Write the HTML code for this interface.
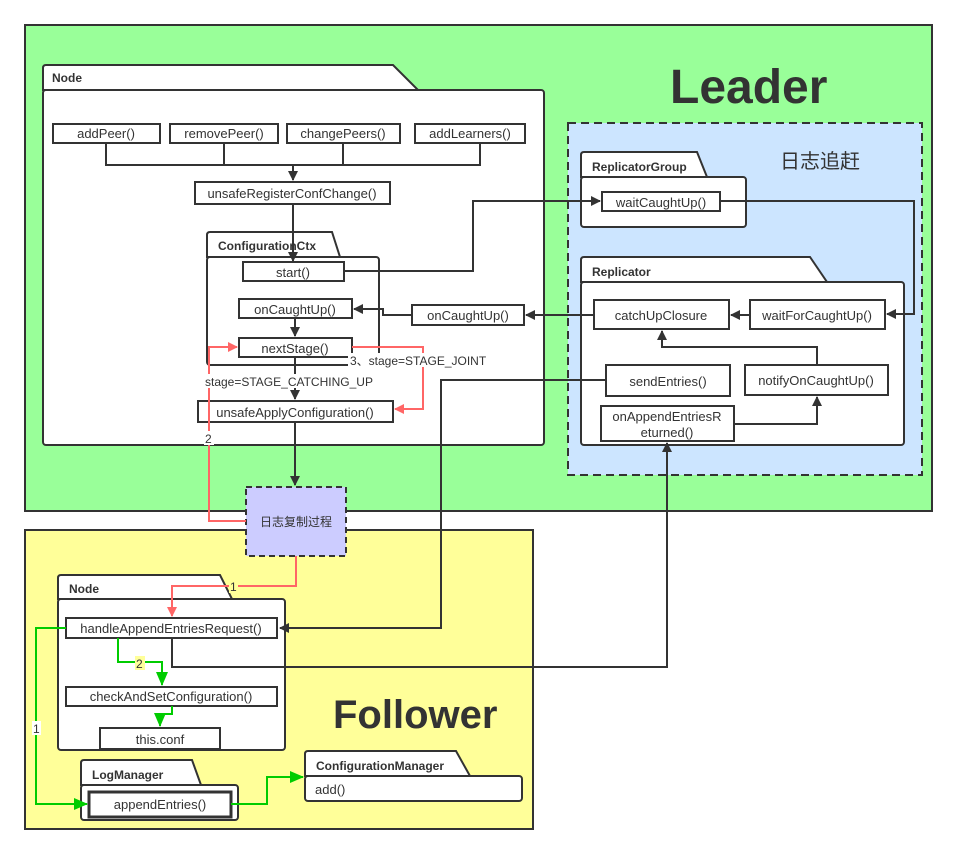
<!DOCTYPE html>
<html><head><meta charset="utf-8"><style>
body{margin:0;background:#fff}
svg text{font-family:"Liberation Sans","Noto Sans CJK SC",sans-serif;fill:#333}
</style></head><body>
<svg width="957" height="854" viewBox="0 0 957 854" xmlns="http://www.w3.org/2000/svg">
<defs>
<marker id="ak" markerWidth="10" markerHeight="10" refX="9" refY="5" orient="auto" markerUnits="userSpaceOnUse"><path d="M0,0 L10,5 L0,10 z" fill="#333"/></marker>
<marker id="ar" markerWidth="10" markerHeight="10" refX="9" refY="5" orient="auto" markerUnits="userSpaceOnUse"><path d="M0,0 L10,5 L0,10 z" fill="#ff6666"/></marker>
<marker id="ag" markerWidth="14" markerHeight="12" refX="13" refY="6" orient="auto" markerUnits="userSpaceOnUse"><path d="M0,0 L14,6 L0,12 z" fill="#00cc00"/></marker>
</defs>
<g stroke="#333" stroke-width="2">
<rect x="25" y="25" width="907" height="486" fill="#99ff99"/>
<rect x="25" y="530" width="508" height="299" fill="#ffff99"/>
<rect x="568" y="123" width="354" height="352" fill="#cce5ff" stroke-dasharray="8,5"/>
</g>
<text x="670" y="103" font-size="48" font-weight="bold">Leader</text>
<text x="780" y="168" font-size="20">日志追赶</text>
<text x="333" y="728" font-size="40" font-weight="bold">Follower</text>

<g stroke="#333" stroke-width="2" fill="#fff">
<path d="M43,90 V68 Q43,65 46,65 H393 L418,90 Z"/>
<rect x="43" y="90" width="501" height="355" rx="3"/>
<path d="M207,257 V235 Q207,232 210,232 H332 L340,257 Z"/>
<rect x="207" y="257" width="172" height="108" rx="3"/>
<path d="M581,177 V155 Q581,152 584,152 H697 L707,177 Z"/>
<rect x="581" y="177" width="165" height="50" rx="3"/>
<path d="M581,282 V260 Q581,257 584,257 H810 L827,282 Z"/>
<rect x="581" y="282" width="323" height="163" rx="3"/>
<path d="M58,599 V578 Q58,575 61,575 H220 L232,599 Z"/>
<rect x="58" y="599" width="227" height="151" rx="3"/>
<path d="M81,785 V763 Q81,760 84,760 H192 L201,785 Z"/>
<rect x="81" y="785" width="157" height="35" rx="3"/>
<path d="M305,776 V754 Q305,751 308,751 H456 L470,776 Z"/>
<rect x="305" y="776" width="217" height="25" rx="3"/>
</g>
<g font-size="12" font-weight="bold">
<text x="52" y="82">Node</text>
<text x="218" y="250">ConfigurationCtx</text>
<text x="592" y="171">ReplicatorGroup</text>
<text x="592" y="276">Replicator</text>
<text x="69" y="593">Node</text>
<text x="92" y="779">LogManager</text>
<text x="316" y="770">ConfigurationManager</text>
</g>
<text x="315" y="794" font-size="13">add()</text>

<g stroke="#333" stroke-width="2" fill="#fff">
<rect x="53" y="124" width="107" height="19"/>
<rect x="170" y="124" width="108" height="19"/>
<rect x="287" y="124" width="113" height="19"/>
<rect x="415" y="124" width="110" height="19"/>
<rect x="195" y="182" width="195" height="22"/>
<rect x="243" y="262" width="101" height="19"/>
<rect x="239" y="299" width="113" height="19"/>
<rect x="239" y="338" width="113" height="19"/>
<rect x="198" y="401" width="195" height="21"/>
<rect x="412" y="305" width="112" height="20"/>
<rect x="602" y="192" width="118" height="19"/>
<rect x="594" y="300" width="135" height="29"/>
<rect x="750" y="300" width="135" height="29"/>
<rect x="606" y="365" width="124" height="31"/>
<rect x="745" y="365" width="143" height="30"/>
<rect x="601" y="406" width="133" height="35"/>
<rect x="66" y="618" width="211" height="20"/>
<rect x="66" y="687" width="211" height="19"/>
<rect x="100" y="728" width="120" height="21"/>
<rect x="89" y="792" width="142" height="25" stroke-width="3"/>
<rect x="246" y="487" width="100" height="69" fill="#ccccff" stroke-dasharray="6,4"/>
</g>
<g font-size="13" text-anchor="middle">
<text x="106" y="138">addPeer()</text>
<text x="224" y="138">removePeer()</text>
<text x="343" y="138">changePeers()</text>
<text x="470" y="138">addLearners()</text>
<text x="292" y="198">unsafeRegisterConfChange()</text>
<text x="293" y="277">start()</text>
<text x="295" y="314">onCaughtUp()</text>
<text x="295" y="353">nextStage()</text>
<text x="295" y="417">unsafeApplyConfiguration()</text>
<text x="468" y="320">onCaughtUp()</text>
<text x="661" y="207">waitCaughtUp()</text>
<text x="661" y="320">catchUpClosure</text>
<text x="817" y="320">waitForCaughtUp()</text>
<text x="668" y="386">sendEntries()</text>
<text x="816" y="385">notifyOnCaughtUp()</text>
<text x="667" y="421">onAppendEntriesR</text>
<text x="667" y="437">eturned()</text>
<text x="171" y="633">handleAppendEntriesRequest()</text>
<text x="171" y="701">checkAndSetConfiguration()</text>
<text x="160" y="744">this.conf</text>
<text x="160" y="809">appendEntries()</text>
<text x="296" y="526" font-size="12">日志复制过程</text>
</g>

<g stroke="#333" stroke-width="2" fill="none">
<path d="M106,143 V165 H480 V143 M224,143 V165 M343,143 V165"/>
<path d="M293,165 V180" marker-end="url(#ak)"/>
<path d="M293,204 V261" marker-end="url(#ak)"/>
<path d="M344,271 H473 V201 H600" marker-end="url(#ak)"/>
<path d="M720,201 H914 V314 H887" marker-end="url(#ak)"/>
<path d="M750,315 H731" marker-end="url(#ak)"/>
<path d="M594,315 H526" marker-end="url(#ak)"/>
<path d="M412,315 H383 V309 H354" marker-end="url(#ak)"/>
<path d="M295,318 V336" marker-end="url(#ak)"/>
<path d="M295,357 V399" marker-end="url(#ak)"/>
<path d="M295,422 V485" marker-end="url(#ak)"/>
<path d="M817,365 V347 H662 V331" marker-end="url(#ak)"/>
<path d="M734,424 H817 V397" marker-end="url(#ak)"/>
<path d="M606,380 H441 V628 H280" marker-end="url(#ak)"/>
<path d="M172,638 V667 H667 V443" marker-end="url(#ak)"/>
</g>
<g stroke="#ff6666" stroke-width="2" fill="none">
<path d="M352,347 H423 V409 H395" marker-end="url(#ar)"/>
<path d="M246,521 H209 V347 H237" marker-end="url(#ar)"/>
<path d="M296,556 V586 H172 V616" marker-end="url(#ar)"/>
</g>
<g stroke="#00cc00" stroke-width="2" fill="none">
<path d="M118,638 V662 H162 V685" marker-end="url(#ag)"/>
<path d="M172,706 V714 H160 V726" marker-end="url(#ag)"/>
<path d="M66,628 H36 V804 H87" marker-end="url(#ag)"/>
<path d="M231,804 H267 V777 H303" marker-end="url(#ag)"/>
</g>
<g font-size="12">
<rect x="348" y="353" width="150" height="14" fill="#fff"/>
<text x="350" y="365">3、stage=STAGE_JOINT</text>
<rect x="204" y="374" width="184" height="14" fill="#fff"/>
<text x="205" y="386">stage=STAGE_CATCHING_UP</text>
<rect x="204" y="431" width="10" height="14" fill="#fff"/>
<text x="205" y="443">2</text>
<rect x="229" y="579" width="9" height="14" fill="#ffff99"/>
<text x="230" y="591">1</text>
<rect x="135" y="656" width="10" height="14" fill="#ffff99"/>
<text x="136" y="668">2</text>
<rect x="32" y="721" width="9" height="14" fill="#fff"/>
<text x="33" y="733">1</text>
</g>
</svg>
</body></html>
